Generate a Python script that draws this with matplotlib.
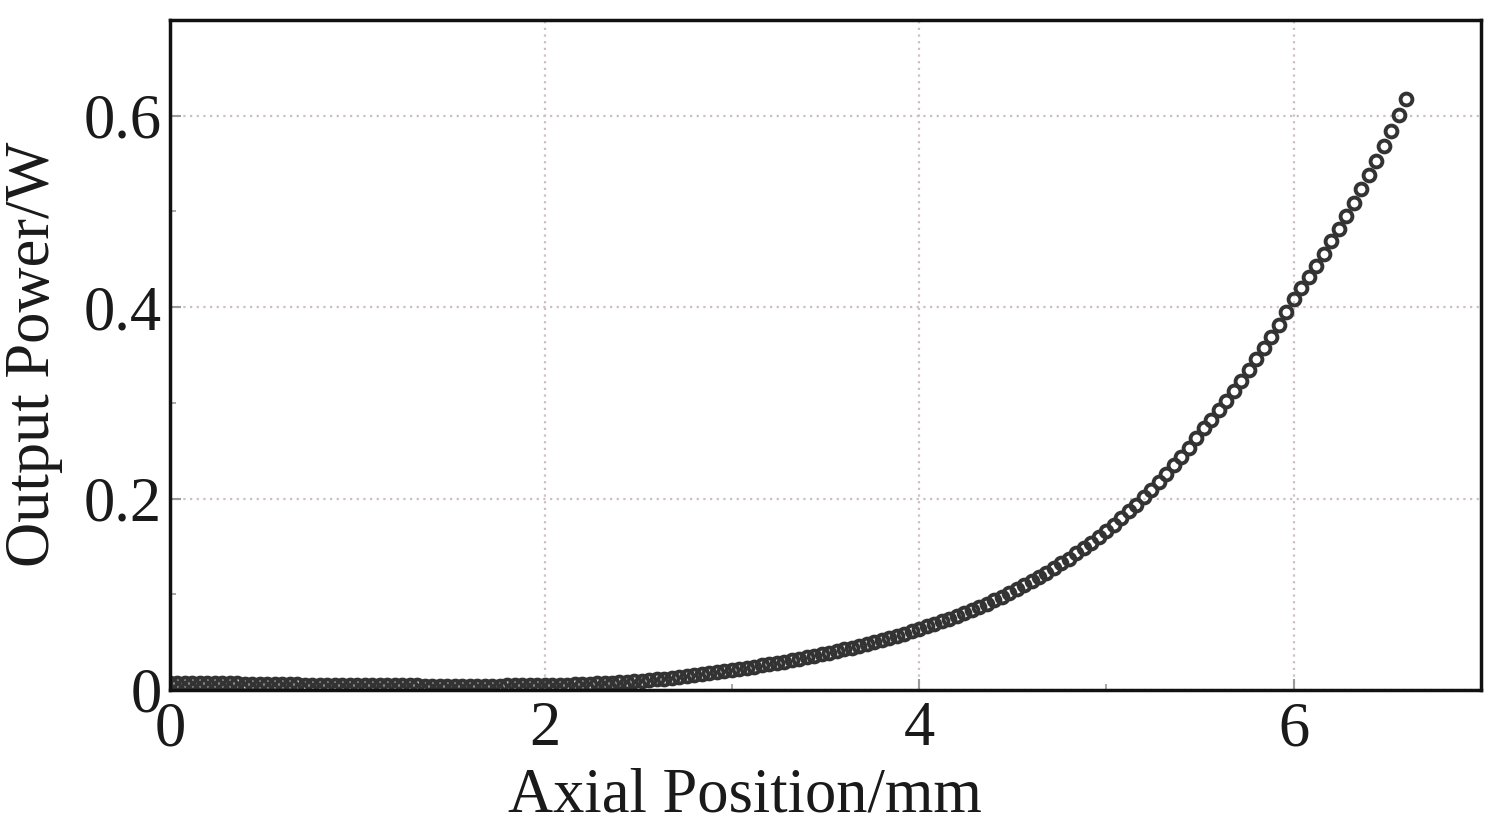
import numpy as np
import matplotlib
matplotlib.use('Agg')
import matplotlib.pyplot as plt
from matplotlib.ticker import MultipleLocator

# output power read along the fibre, one sample every 0.04 mm from 0 to 6.6 mm
power_0_2 = [.0075, .0075, .0074, .0074, .0073, .0072, .0071, .0070, .0069, .0068,
             .0066, .0065, .0063, .0062, .0061, .0060, .0059, .0058, .0057, .0056,
             .0055, .0055, .0054, .0053, .0053, .0052, .0051, .0051, .0050, .0050,
             .0049, .0049, .0048, .0048, .0047, .0047, .0047, .0046, .0046, .0046,
             .0046, .0046, .0047, .0047, .0047, .0048, .0048, .0049, .0049, .0050,
             .0051]
power_2_3 = [.0052, .0054, .0056, .0058, .0061, .0064, .0068, .0072, .0077, .0082,
             .0087, .0093, .0099, .0105, .0112, .0119, .0127, .0135, .0144, .0153,
             .0163, .0174, .0185, .0197, .0210]
power_3_4 = [.0221, .0232, .0244, .0256, .0269, .0282, .0296, .0310, .0325, .0340,
             .0356, .0373, .0390, .0407, .0425, .0443, .0462, .0482, .0502, .0523,
             .0545, .0567, .0590, .0614, .0639]
power_4_55 = [.0664, .0690, .0717, .0745, .0774, .0804, .0835, .0868, .0902, .0937,
              .0974, .1011, .1051, .1092, .1134, .1178, .1224, .1272, .1322, .1373,
              .1427, .1482, .1540, .1600, .1663, .1728, .1795, .1865, .1938, .2013,
              .2092, .2173, .2258, .2346, .2437, .2532, .2631, .2733]
power_55_6 = [.2826, .2922, .3021, .3124, .3230, .3340, .3454, .3571, .3692, .3818,
              .3948, .4082]
power_6_66 = [.4196, .4314, .4435, .4559, .4687, .4818, .4953, .5092, .5234, .5381,
              .5531, .5686, .5845, .6009, .6177]

power = power_0_2 + power_2_3 + power_3_4 + power_4_55 + power_55_6 + power_6_66
position = np.linspace(0, 6.6, len(power))

x_ticks = [0, 2, 4, 6]
y_ticks = [0, 0.2, 0.4, 0.6]
y_tick_labels = ['0', '0.2', '0.4', '0.6']

plt.rcParams['font.family'] = ['Liberation Serif', 'DejaVu Serif']

fig = plt.figure(figsize=(14.99, 8.33), dpi=100)
ax = fig.add_axes([170 / 1499, 1 - 690 / 833, 1311 / 1499, 670 / 833])

ax.plot(position, power, 'o', color='#333333', markerfacecolor='none',
        markersize=8.5, markeredgewidth=2.8)

ax.set_xlim(0, 7)
ax.set_ylim(0, 0.7)
ax.set_xticks(x_ticks)
ax.set_yticks(y_ticks)
ax.set_yticklabels(y_tick_labels)
ax.xaxis.set_minor_locator(MultipleLocator(1))
ax.yaxis.set_minor_locator(MultipleLocator(0.1))

ax.grid(True, which='major', color='#cdbfc2', linestyle=(0, (1, 2)), linewidth=1.6)
ax.tick_params(which='both', direction='in', colors='#9a9a9a', labelcolor='#1a1a1a',
               top=False, right=False)
ax.tick_params(which='major', length=8, width=1.5, labelsize=45)
ax.tick_params(axis='x', which='major', pad=8)
ax.tick_params(axis='y', which='major', pad=6)
ax.tick_params(which='minor', length=4, width=1.2)

for spine in ax.spines.values():
    spine.set_linewidth(2.5)
    spine.set_color('#111111')

# axis titles sit off-centre in the original, so place them on the figure
fig.text(745 / 1499, 1 - 812 / 833, 'Axial Position/mm', fontsize=45,
         ha='center', va='baseline', color='#1a1a1a')
fig.text(34 / 1499, 1 - 354 / 833, 'Output Power/W', fontsize=45,
         rotation=90, ha='center', va='center', color='#1a1a1a')

fig.savefig('out.png', dpi=100)
